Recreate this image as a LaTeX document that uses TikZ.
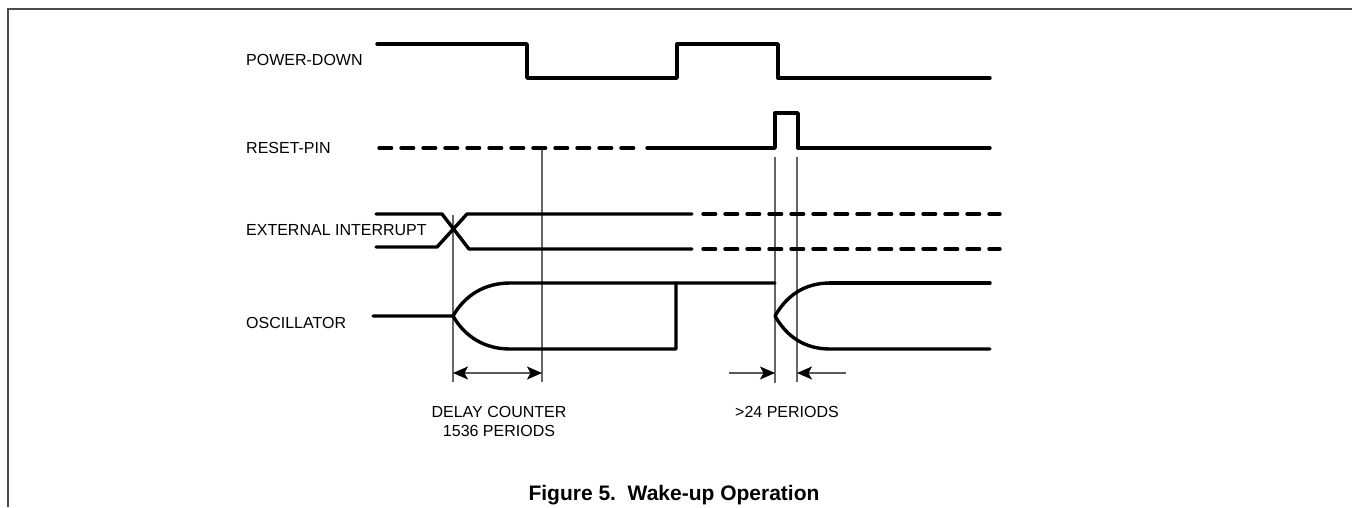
\documentclass[tikz,border=0pt]{standalone}
\usepackage{fontspec}
\setmainfont{Liberation Sans}
\usetikzlibrary{arrows.meta}
\tikzset{
  signal/.style={line width=3.4pt,line cap=round,line join=round},
  undefd/.style={signal,dash pattern=on 12.6pt off 9.4pt},
  guide/.style={line width=1.2pt,black!60},
  span/.style={line width=1.2pt,black!65,>={Stealth[length=15pt,width=13pt,inset=3.5pt,black]}},
  tag/.style={font=\fontsize{16pt}{18pt}\selectfont,inner sep=0pt,anchor=west},
  note/.style={font=\fontsize{16pt}{18.5pt}\selectfont,inner sep=0pt,align=center}
}
\begin{document}
\begin{tikzpicture}[x=1pt,y=-1pt]
\useasboundingbox (0,0) rectangle (1352,507);
\draw[line width=2pt,black!70] (8,507) -- (8,8.5) -- (1352,8.5);
% signal names
\node[tag] (pd) at (246,60) {POWER-DOWN};
\node[tag] (rst) at (246,148) {RESET-PIN};
\node[tag] (ext) at (246,230) {EXTERNAL INTERRUPT};
\node[tag] (osc) at (246,323) {OSCILLATOR};
% guides
\draw[guide] (453,215) -- (453,382);
\draw[guide] (542,148) -- (542,382);
\draw[guide] (775,157) -- (775,383);
\draw[guide] (797,157) -- (797,382);
% waveforms
\draw[signal] (377,44) -- (527,44) -- (527,78) -- (677,78) -- (677,44) -- (778,44) -- (778,78) -- (990,78);
\draw[undefd] (379,148) -- (640,148);
\draw[signal] (647,148) -- (775,148) -- (775,113) -- (798,113) -- (798,148) -- (990,148);
\draw[signal] (376,214) -- (442,214) -- (469,249) -- (692,249);
\draw[signal] (376,247) -- (437,247) -- (467,214) -- (692,214);
\draw[undefd] (703,214) -- (1000,214);
\draw[undefd] (703,249) -- (1000,249);
\draw[signal] (373,316) -- (453,316) .. controls (465,295) and (485,283) .. (510,283) -- (775,283);
\draw[signal] (453,316) .. controls (465,337) and (485,349) .. (510,349) -- (676,349) -- (676,283);
\draw[signal] (830,283) .. controls (805,283) and (787,295) .. (775,316) .. controls (787,337) and (805,349) .. (830,349) -- (990,349);
\draw[signal] (830,283) -- (990,283);
% spans
\draw[span,<->] (453,373) -- (542,373);
\draw[span,->] (729,373) -- (775,373);
\draw[span,->] (846,373) -- (797,373);
\node[note] (delay) at (499,421.5) {DELAY COUNTER\\1536 PERIODS};
\node[note] (min) at (787,412) {>24 PERIODS};
\node[font=\fontsize{21pt}{24pt}\selectfont\bfseries,inner sep=0pt] (cap) at (674,495) {Figure 5.\ \ Wake-up Operation};
\end{tikzpicture}
\end{document}
